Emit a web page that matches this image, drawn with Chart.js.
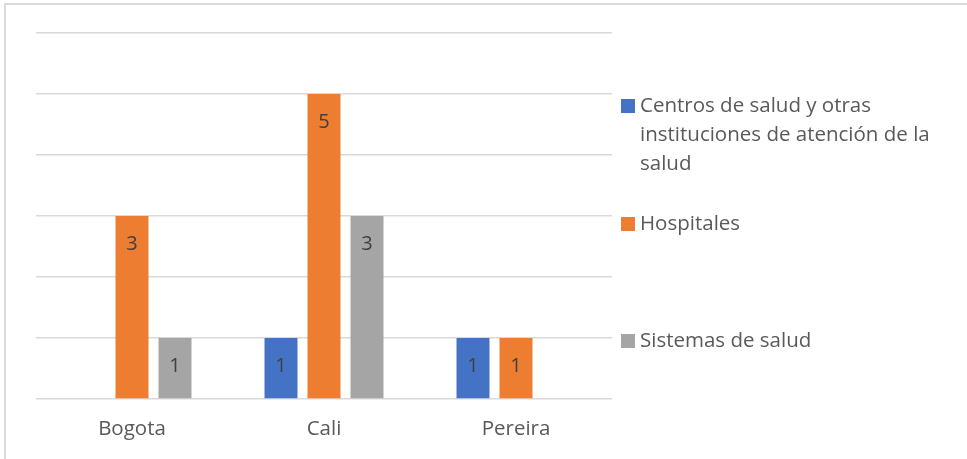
<!DOCTYPE html>
<html>
<head>
<meta charset="utf-8">
<script src="https://cdn.jsdelivr.net/npm/chart.js@4.4.1/dist/chart.umd.min.js"></script>
<style>
    html, body { margin: 0; padding: 0; background: #fff; }
    #wrap { position: relative; width: 967px; height: 459px; overflow: hidden; }
    #frame { position: absolute; left: 4px; top: 3px; width: 1000px; height: 500px; border: 2px solid #dadada; box-sizing: border-box; }
    #chart { position: absolute; left: 0; top: 0; }
</style>
</head>
<body>
<div id="wrap">
    <div id="frame"></div>
    <canvas id="chart" width="967" height="459"></canvas>
</div>
<script>
    'use strict';

    var categories = ['Bogota', 'Cali', 'Pereira'];
    var centrosValues = [null, 1, 1];
    var hospitalesValues = [3, 5, 1];
    var sistemasValues = [1, 3, null];
    var seriesLabels = [
        ['Centros de salud y otras', 'instituciones de atención de la', 'salud'],
        ['Hospitales'],
        ['Sistemas de salud']
    ];
    var yMax = 6;
    var yStep = 1;

    var FONT = '"Open Sans", sans-serif';

    // numbers inside the top of each bar
    var valueLabels = {
        id: 'valueLabels',
        afterDatasetsDraw: function(chart) {
            var ctx = chart.ctx;
            ctx.save();
            ctx.font = '20px ' + FONT;
            ctx.fillStyle = '#404040';
            ctx.textAlign = 'center';
            ctx.textBaseline = 'middle';
            chart.data.datasets.forEach(function(ds, i) {
                chart.getDatasetMeta(i).data.forEach(function(bar, j) {
                    if (ds.data[j] == null) return;
                    ctx.fillText(String(ds.data[j]), bar.x, bar.y + 28);
                });
            });
            ctx.restore();
        }
    };

    // legend on the right, with wrapped first entry
    var sideLegend = {
        id: 'sideLegend',
        afterDraw: function(chart) {
            var ctx = chart.ctx;
            var tops = [106, 224, 341];
            ctx.save();
            ctx.font = '20.5px ' + FONT;
            ctx.textBaseline = 'middle';
            chart.data.datasets.forEach(function(ds, i) {
                var y = tops[i];
                ctx.fillStyle = ds.backgroundColor;
                ctx.fillRect(621, y - 7, 14, 14);
                ctx.fillStyle = '#595959';
                ds.legendLines.forEach(function(line, k) {
                    ctx.fillText(line, 640, y + k * 29);
                });
            });
            ctx.restore();
        }
    };

    var myBarChart = new Chart(document.getElementById('chart'), {
        type: 'bar',
        data: {
            labels: categories,
            datasets: [{
                label: seriesLabels[0].join(' '),
                legendLines: seriesLabels[0],
                data: centrosValues,
                backgroundColor: '#4472C4'
            }, {
                label: seriesLabels[1].join(' '),
                legendLines: seriesLabels[1],
                data: hospitalesValues,
                backgroundColor: '#ED7D31'
            }, {
                label: seriesLabels[2].join(' '),
                legendLines: seriesLabels[2],
                data: sistemasValues,
                backgroundColor: '#A5A5A5'
            }]
        },
        options: {
            responsive: false,
            animation: false,
            categoryPercentage: 0.672,
            barPercentage: 0.767,
            layout: { padding: { left: 36, top: 33, right: 355, bottom: 0 } },
            plugins: {
                legend: { display: false },
                tooltip: { enabled: false }
            },
            scales: {
                x: {
                    grid: { display: false, drawTicks: false },
                    border: { display: false },
                    ticks: {
                        color: '#595959',
                        font: { family: FONT, size: 20.5 },
                        padding: 18
                    },
                    afterFit: function(scale) { scale.height = 60; }
                },
                y: {
                    min: 0,
                    max: yMax,
                    ticks: { display: false, stepSize: yStep },
                    grid: { color: '#d9d9d9', lineWidth: 1.5, drawTicks: false },
                    border: { display: false },
                    afterFit: function(scale) { scale.width = 0; }
                }
            }
        },
        plugins: [valueLabels, sideLegend]
    });
</script>
</body>
</html>
